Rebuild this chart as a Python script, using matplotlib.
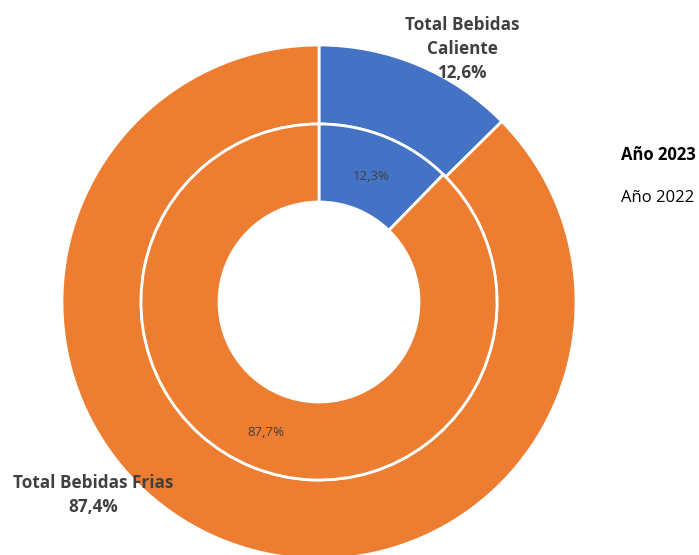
import matplotlib.pyplot as plt

categorias = ["Total Bebidas Caliente", "Total Bebidas Frias"]
anio_2023 = [12.6, 87.4]
anio_2022 = [12.3, 87.7]
series = ["Año 2023", "Año 2022"]
colores = ["#4472C4", "#ED7D31"]

def pct(v):
    return f"{v:.1f}%".replace(".", ",")

plt.rcParams['font.family'] = ['Open Sans', 'DejaVu Sans']

fig = plt.figure(figsize=(6.99, 5.55), dpi=100)
ax = fig.add_axes([0, 0, 1, 1])

cx, cy = 319, 555 - 302
# anillo exterior: 2023
ax.pie(anio_2023, colors=colores, startangle=90, counterclock=False,
       radius=257, center=(cx, cy),
       wedgeprops=dict(width=79, edgecolor='white', linewidth=2))
# anillo interior: 2022
ax.pie(anio_2022, colors=colores, startangle=90, counterclock=False,
       radius=178, center=(cx, cy),
       wedgeprops=dict(width=78, edgecolor='white', linewidth=2))

ax.set_xlim(0, 699)
ax.set_ylim(0, 555)
ax.set_aspect('equal')
ax.axis('off')

gris = "#404040"
ax.text(462, 555 - 49, "Total Bebidas\nCaliente\n" + pct(anio_2023[0]),
        ha='center', va='center', fontsize=12.3, fontweight='bold',
        color=gris, linespacing=1.45)
ax.text(93, 555 - 495, "Total Bebidas Frias\n" + pct(anio_2023[1]),
        ha='center', va='center', fontsize=12.3, fontweight='bold',
        color=gris, linespacing=1.45)
ax.text(371, 555 - 176, pct(anio_2022[0]), ha='center', va='center',
        fontsize=9.5, color=gris)
ax.text(266, 555 - 433, pct(anio_2022[1]), ha='center', va='center',
        fontsize=9.5, color=gris)

# leyenda solo texto
ax.text(621, 555 - 155, series[0], ha='left', va='center',
        fontsize=12, fontweight='bold', color='black')
ax.text(621, 555 - 198, series[1], ha='left', va='center',
        fontsize=12, color='black')

fig.savefig("out.png", dpi=100)
